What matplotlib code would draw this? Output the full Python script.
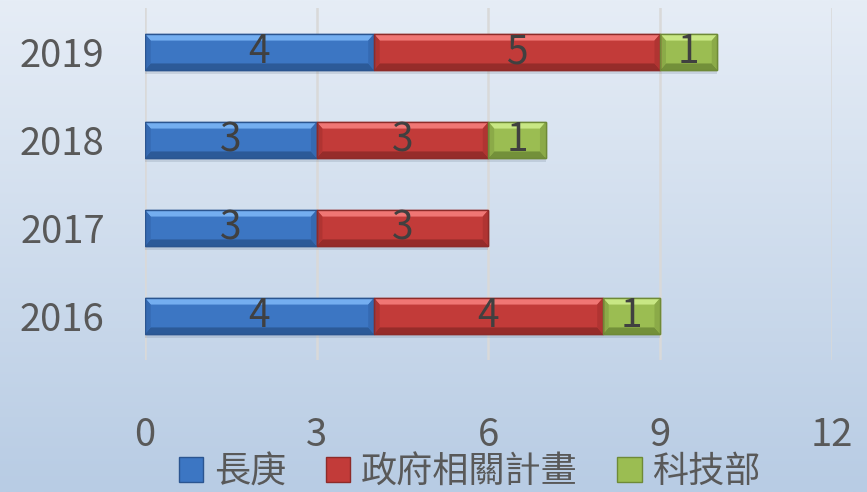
import numpy as np
import matplotlib.pyplot as plt
from matplotlib.patches import Polygon, Patch

plt.rcParams['font.family'] = ['Noto Sans CJK TC', 'DejaVu Sans']
plt.rcParams['font.weight'] = 'light'

# -----------------------------
# Data
# -----------------------------
years = ["2016", "2017", "2018", "2019"]
series_names = ["長庚", "政府相關計畫", "科技部"]
changgung = [4, 3, 3, 4]
government = [4, 3, 3, 5]
most = [1, 0, 1, 1]
xticks = [0, 3, 6, 9, 12]

# face, top bevel, bottom bevel, side bevel, edge
palette = [
    ("#3C76C3", "#74AEF0", "#2C5A98", "#356AB2", "#2B5590"),
    ("#C23B39", "#F07674", "#962C2A", "#B03432", "#8E2B29"),
    ("#9BBD52", "#C8E784", "#73903A", "#8BAA48", "#6E8A37"),
]
text_gray = "#595959"

fig = plt.figure(figsize=(8.67, 4.92), dpi=100)

# background gradient
bg = fig.add_axes([0, 0, 1, 1], zorder=-10)
grad = np.linspace(0, 1, 256).reshape(-1, 1)
c_top = np.array([0xE6, 0xED, 0xF6]) / 255
c_bot = np.array([0xB8, 0xCC, 0xE4]) / 255
img = c_top + (c_bot - c_top) * grad[:, :, None]
bg.imshow(img, aspect="auto", extent=[0, 1, 0, 1])
bg.axis("off")

ax = fig.add_axes([0.1672, 0.2683, 0.7924, 0.7154])
ax.patch.set_alpha(0)

y = np.arange(len(years))
h = 0.41
bx, by = 0.10, 0.075

def bevel_bar(left, width, yc, cols):
    face, top, bot, side, edge = cols
    l, r = left, left + width
    t, b = yc + h / 2, yc - h / 2
    # soft shadow
    ax.barh(yc - 0.04, width, height=h, left=l, color="#5a6a80", alpha=0.18,
            linewidth=0, zorder=1)
    ax.barh(yc, width, height=h, left=l, color=face, edgecolor=edge,
            linewidth=1.0, zorder=2)
    ax.add_patch(Polygon([(l, t), (r, t), (r - bx, t - by), (l + bx, t - by)],
                         closed=True, color=top, linewidth=0, zorder=3))
    ax.add_patch(Polygon([(l, b), (r, b), (r - bx, b + by), (l + bx, b + by)],
                         closed=True, color=bot, linewidth=0, zorder=3))
    ax.add_patch(Polygon([(l, t), (l + bx, t - by), (l + bx, b + by), (l, b)],
                         closed=True, color=side, linewidth=0, zorder=3))
    ax.add_patch(Polygon([(r, t), (r - bx, t - by), (r - bx, b + by), (r, b)],
                         closed=True, color=side, linewidth=0, zorder=3))
    ax.add_patch(plt.Rectangle((l, b), width, h, fill=False, edgecolor=edge,
                               linewidth=1.0, zorder=4))

lefts = np.zeros(len(years))
for vals, cols in zip([changgung, government, most], palette):
    for i, v in enumerate(vals):
        if v > 0:
            bevel_bar(lefts[i], v, y[i], cols)
            ax.text(lefts[i] + v / 2, y[i], str(v), ha="center", va="center",
                    fontsize=28, color="#404040", zorder=5)
    lefts += np.array(vals)

ax.set_xlim(0, 12)
ax.set_ylim(-0.5, 3.5)
ax.set_xticks(xticks)
ax.set_xticklabels([str(t) for t in xticks])
ax.set_yticks(y)
ax.set_yticklabels(years)
ax.tick_params(axis="x", length=0, pad=40, labelsize=27.5, labelcolor=text_gray)
ax.tick_params(axis="y", length=0, pad=29, labelsize=27.5, labelcolor=text_gray)
for s in ax.spines.values():
    s.set_visible(False)
ax.grid(axis="x", color="#D9D9D9", linewidth=1.8, zorder=0)
ax.set_axisbelow(True)

handles = [Patch(facecolor=c[0], edgecolor=c[4], linewidth=1.0) for c in palette]
fig.legend(handles, series_names, loc="center", ncol=3,
           bbox_to_anchor=(0.542, 0.04), frameon=False, fontsize=26,
           labelcolor=text_gray, handlelength=0.67, handleheight=0.67,
           handletextpad=0.3, columnspacing=1.1, borderpad=0, borderaxespad=0)

fig.savefig("out.png", dpi=100)
